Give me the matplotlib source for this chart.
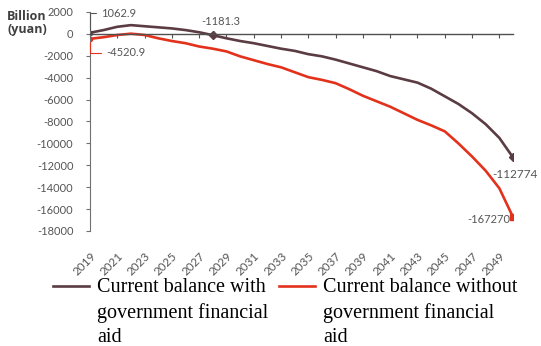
import matplotlib
matplotlib.use('Agg')
import matplotlib.pyplot as plt

# years 2019..2050, values in billion yuan
years = list(range(2019, 2051))
with_aid = [106, 350, 650, 800, 700, 600, 500, 350, 150, -118,
            -400, -650, -850, -1100, -1350, -1550, -1850, -2050, -2350, -2700,
            -3050, -3400, -3850, -4150, -4450, -5000, -5700, -6400, -7250, -8250,
            -9500, -11277]
without_aid = [-452, -300, -100, 20, -100, -400, -650, -850, -1150, -1350,
               -1600, -2050, -2400, -2750, -3050, -3500, -3950, -4200, -4500, -5050,
               -5650, -6150, -6650, -7250, -7850, -8350, -8900, -10000, -11200, -12500,
               -14100, -16727]
tick_years = list(range(2019, 2050, 2))
y_ticks = list(range(2000, -18001, -2000))
label_names = ["Current balance with\ngovernment financial\naid",
               "Current balance without\ngovernment financial\naid"]

dark = '#5a3c42'
red = '#e2321c'
grey = '#555555'

fig = plt.figure(figsize=(5.41, 3.46), dpi=100)
ax = fig.add_axes([90/541, 1-231/346, (513-90)/541, (231-12)/346])

l1, = ax.plot(years, with_aid, color=dark, lw=1.9, label=label_names[0])
l2, = ax.plot(years, without_aid, color=red, lw=1.9, label=label_names[1])

# markers on labelled points
ax.plot(years[0], with_aid[0], 'o', color=dark, ms=3)
ax.plot(years[0], without_aid[0], 'o', color=red, ms=3)
ax.plot(years[9], with_aid[9], 'D', color=dark, ms=4)
ax.plot(years[-1], with_aid[-1], 'D', color=dark, ms=4)
ax.plot(years[-1], without_aid[-1], 's', color=red, ms=4)

ax.set_xlim(2019, 2050)
ax.set_ylim(-18000, 2000)

for s in ['top', 'right']:
    ax.spines[s].set_visible(False)
ax.spines['left'].set_color('#707070')
ax.spines['bottom'].set_position(('data', 0))
ax.spines['bottom'].set_color('#505050')
ax.spines['bottom'].set_linewidth(1.0)

ax.set_yticks(y_ticks)
ax.set_yticklabels([str(v) for v in y_ticks], fontsize=8, color=grey, family='Lato')
ax.tick_params(axis='y', direction='out', length=3, pad=9, color='#707070')

ax.set_xticks(tick_years)
ax.tick_params(axis='x', direction='out', length=3, color='#505050', labelbottom=False)

sec = ax.secondary_xaxis('bottom')
sec.set_xticks(tick_years)
sec.set_xticklabels([str(y) for y in tick_years], rotation=45, ha='right', va='top',
                    rotation_mode='anchor', fontsize=8.5, color=grey, family='Lato')
sec.tick_params(length=0, pad=14)
sec.spines['bottom'].set_visible(False)

ann = dict(fontsize=8, color=grey, family='Lato')
ax.annotate('1062.9', xy=(years[0], with_aid[0]), xytext=(8, 14), textcoords='offset points',
            va='center', ha='left',
            arrowprops=dict(arrowstyle='-', color=grey, lw=0.8,
                            connectionstyle='angle,angleA=0,angleB=90,rad=0'), **ann)
ax.annotate('-4520.9', xy=(years[0], without_aid[0]), xytext=(12, -10), textcoords='offset points',
            va='center', ha='left',
            arrowprops=dict(arrowstyle='-', color=red, lw=0.8,
                            connectionstyle='angle,angleA=0,angleB=90,rad=0'), **ann)
ax.annotate('-1181.3', xy=(years[9], with_aid[9]), xytext=(-8, 6), textcoords='offset points',
            va='bottom', ha='left',
            arrowprops=dict(arrowstyle='-', color=grey, lw=0.8), **ann)
ax.annotate('-112774', xy=(years[-1], with_aid[-1]), xytext=(-15, -12), textcoords='offset points',
            va='center', ha='left', fontsize=8.5, color=grey, family='Lato')
ax.annotate('-167270', xy=(years[-1], without_aid[-1]), xytext=(-2, -2), textcoords='offset points',
            va='center', ha='right', **ann)

fig.text(7/541, 1-23/346, 'Billion\n(yuan)', fontsize=9, fontweight='bold', color='#404040',
         family='Open Sans', va='center', ha='left', linespacing=1.05)

leg = fig.legend(handles=[l1, l2], loc='upper left', bbox_to_anchor=(45/541, 1-270/346), ncol=2,
                 frameon=False, prop={'family': 'Liberation Serif', 'size': 14.5},
                 handlelength=1.8, handletextpad=0.4, columnspacing=0.5, borderaxespad=0,
                 labelspacing=0)
for t in leg.get_texts():
    t.set_linespacing(1.38)
# put the legend line next to the first text line
for h in leg.legend_handles:
    yd = h.get_ydata()
    h.set_ydata([v + 19 for v in yd])

fig.savefig('out.png', dpi=100)
